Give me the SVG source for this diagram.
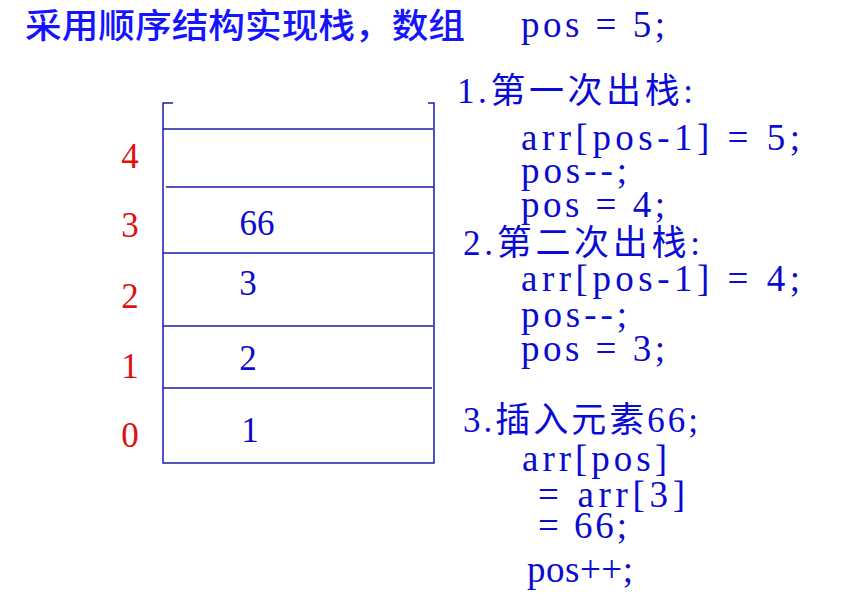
<svg xmlns="http://www.w3.org/2000/svg" width="848" height="605" viewBox="0 0 848 605">
<style>
.t{font-family:"Liberation Serif","Noto Sans CJK SC",serif;font-size:35px;fill:#0a0ad6}
.h{font-family:"Noto Sans CJK SC",sans-serif;font-size:34px;font-weight:500;fill:#1414ff}
.c{font-family:"Liberation Serif","Noto Sans CJK SC",serif;font-size:37px;fill:#0a0ad0}
.r{font-family:"Liberation Serif",serif;font-size:35px;fill:#e01010;text-anchor:middle}
.v{font-family:"Liberation Serif",serif;font-size:35px;fill:#0a0ad0;text-anchor:middle}
.ln{stroke:#1a1ab0;stroke-width:1.5;fill:none}
</style>
<rect width="848" height="605" fill="#fff"/>
<g id="title">
<text class="h" x="25" y="38" textLength="440" lengthAdjust="spacingAndGlyphs">采用顺序结构实现栈，数组</text>
<text class="c" x="521" y="37" textLength="144" lengthAdjust="spacing">pos = 5;</text>
</g>
<g id="stack">
<path class="ln" d="M173,103 H163 V463 H434 V103 H428"/>
<line class="ln" x1="163" y1="129" x2="433" y2="129"/>
<line class="ln" x1="166" y1="187" x2="434" y2="187"/>
<line class="ln" x1="163" y1="253" x2="433" y2="253"/>
<line class="ln" x1="163" y1="326" x2="433" y2="326"/>
<line class="ln" x1="163" y1="388" x2="432" y2="388"/>
</g>
<g id="indices">
<text class="r" x="130" y="168">4</text>
<text class="r" x="130" y="237">3</text>
<text class="r" x="130" y="308">2</text>
<text class="r" x="130" y="378">1</text>
<text class="r" x="130" y="447">0</text>
</g>
<g id="values">
<text class="v" x="257" y="235">66</text>
<text class="v" x="248" y="295">3</text>
<text class="v" x="248" y="370">2</text>
<text class="v" x="250" y="442">1</text>
</g>
<g id="step1">
<text class="t" x="457" y="103" textLength="236" lengthAdjust="spacing">1.第一次出栈:</text>
<text class="c" x="521" y="150" textLength="279" lengthAdjust="spacing">arr[pos-1] = 5;</text>
<text class="c" x="521" y="183" textLength="106" lengthAdjust="spacing">pos--;</text>
<text class="c" x="521" y="217" textLength="144" lengthAdjust="spacing">pos = 4;</text>
</g>
<g id="step2">
<text class="t" x="463" y="255" textLength="237" lengthAdjust="spacing">2.第二次出栈:</text>
<text class="c" x="521" y="291" textLength="279" lengthAdjust="spacing">arr[pos-1] = 4;</text>
<text class="c" x="521" y="327" textLength="106" lengthAdjust="spacing">pos--;</text>
<text class="c" x="521" y="361" textLength="144" lengthAdjust="spacing">pos = 3;</text>
</g>
<g id="step3">
<text class="t" x="463" y="432" textLength="235" lengthAdjust="spacing">3.插入元素66;</text>
<text class="c" x="522" y="471" textLength="145" lengthAdjust="spacing">arr[pos]</text>
<text class="c" x="538" y="507" textLength="147" lengthAdjust="spacing">= arr[3]</text>
<text class="c" x="538" y="538" textLength="89" lengthAdjust="spacing">= 66;</text>
<text class="c" x="527" y="582" textLength="106" lengthAdjust="spacing">pos++;</text>
</g>
</svg>
